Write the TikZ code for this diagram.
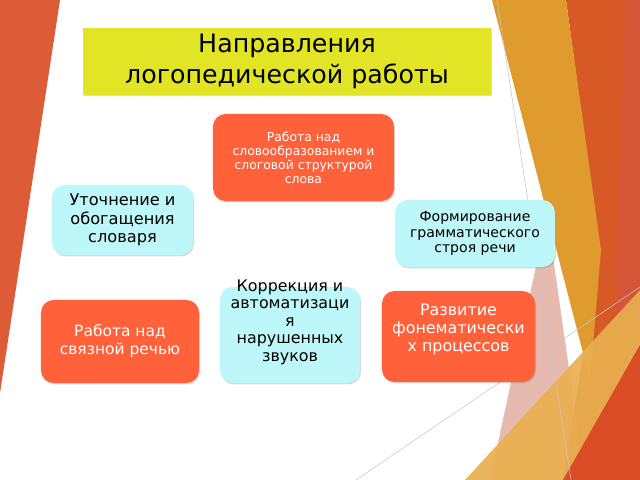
\documentclass[tikz,border=0pt]{standalone}
\usepackage{fontspec}
\setmainfont{DejaVu Sans}
\usetikzlibrary{shadows}
\definecolor{redbg}{RGB}{222,91,55}
\definecolor{goldbg}{RGB}{224,155,46}
\definecolor{orangebg}{RGB}{215,90,38}
\definecolor{rustbg}{RGB}{212,86,58}
\definecolor{lightgold}{RGB}{233,175,80}
\definecolor{lowred}{RGB}{217,76,36}
\definecolor{pinkbg}{RGB}{214,140,120}
\definecolor{boxred}{RGB}{255,98,58}
\definecolor{boxcyan}{RGB}{190,247,250}
\definecolor{titlefill}{RGB}{226,229,37}
\tikzset{
  boxshadow/.style={drop shadow={opacity=0.3,shadow xshift=0.7pt,shadow yshift=-1pt}},
  redbox/.style={rectangle,rounded corners=9pt,fill=boxred,text=white,align=center,inner sep=0pt,boxshadow},
  cyanbox/.style={rectangle,rounded corners=9pt,fill=boxcyan,text=black,align=center,inner sep=0pt,boxshadow},
  titlebox/.style={rectangle,fill=titlefill,text=black,align=center,inner sep=0pt,boxshadow},
  thinline/.style={draw=black!22,line width=0.4pt}
}
\begin{document}
\begin{tikzpicture}[x=0.025cm,y=-0.025cm]
\useasboundingbox (0,0) rectangle (640,480);

\fill[redbg] (0,0) -- (60,0) -- (0,393) -- cycle;
\fill[orangebg] (566,0) -- (640,0) -- (640,480) -- (563,480) -- (600,250) -- cycle;
\fill[rustbg,opacity=0.8] (625,0) -- (640,0) -- (640,480) -- (612,480) -- cycle;
\fill[pinkbg,opacity=0.6] (547,215) -- (585,480) -- (490,480) -- cycle;
\fill[goldbg] (492,0) -- (566,0) -- (601,250) -- (590,380) -- cycle;
\fill[lightgold,opacity=0.92] (465,480) -- (640,290) -- (640,345) -- (563,480) -- cycle;
\fill[lowred] (563,480) -- (640,345) -- (640,480) -- cycle;
\draw[thinline] (497,0) -- (571,480);
\draw[thinline] (356,480) -- (640,287);

\node[titlebox,minimum width=10.2cm,minimum height=1.675cm,font=\fontsize{18}{21.5}\selectfont] (title) at (287,61.5) {Направления\\логопедической работы};

\node[redbox,minimum width=4.525cm,minimum height=2.175cm,font=\fontsize{8.8}{10}\selectfont] (slovo) at (303.5,157.5) {Работа над\\словообразованием и\\слоговой структурой\\слова};
\node[cyanbox,minimum width=3.525cm,minimum height=1.75cm,font=\fontsize{11.5}{13.1}\selectfont] (utoch) at (122.5,220) {Уточнение и\\обогащения\\словаря};
\node[cyanbox,minimum width=4cm,minimum height=1.675cm,font=\fontsize{10}{11}\selectfont] (form) at (475,233.5) {Формирование\\грамматического\\строя речи};

\node[redbox,minimum width=3.95cm,minimum height=2.075cm,font=\fontsize{11}{12.8}\selectfont] (svyaz) at (120,341.5) {Работа над\\связной речью};
\node[cyanbox,minimum width=3.5cm,minimum height=2.4cm] (korr) at (290,335) {};
\node[align=center,inner sep=0pt,font=\fontsize{11.3}{12.4}\selectfont] (korrtext) at (290,322) {Коррекция и\\автоматизаци\\я\\нарушенных\\звуков};
\node[redbox,minimum width=3.825cm,minimum height=2.275cm] (razv) at (458.5,336.5) {};
\node[align=center,inner sep=0pt,text=white,font=\fontsize{11.3}{12.8}\selectfont] (razvtext) at (458.5,329) {Развитие\\фонематически\\х процессов};

\end{tikzpicture}
\end{document}
